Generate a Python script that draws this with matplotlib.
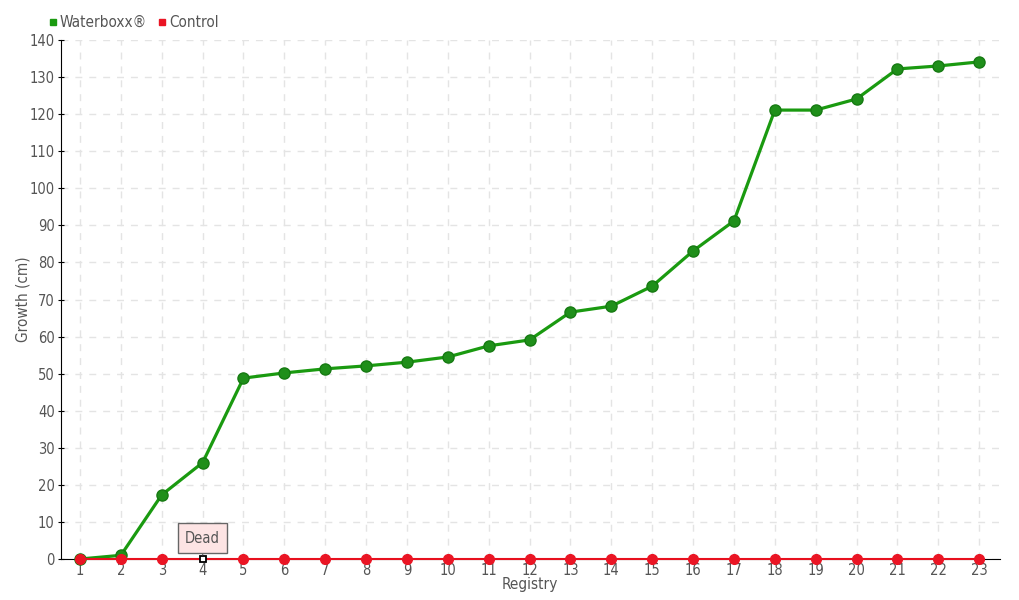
import matplotlib.pyplot as plt
import numpy as np
from matplotlib.lines import Line2D

plt.rcParams['font.family'] = ['DejaVu Sans']
plt.rcParams['font.stretch'] = 'condensed'

registry = list(range(1, 24))
waterboxx = [0, 1, 17.3, 26, 48.8, 50.2, 51.3, 52.1, 53.1, 54.5, 57.5, 59.1,
             66.6, 68.2, 73.6, 83.1, 91.2, 121.1, 121.1, 124.1, 132.2, 133, 134.1]
control = [0] * 23
dead_at = 4
yticks = list(range(0, 141, 10))

fig = plt.figure(figsize=(10.2, 6), dpi=100)
ax = fig.add_axes([0.0598, 0.0683, 0.9202, 0.8650])

ax.grid(True, color='#e4e4e4', linestyle=(0, (5, 5)), linewidth=1)
ax.set_axisbelow(True)

ax.plot(registry, waterboxx, color='#1a9a10', lw=2.3, zorder=3, clip_on=False)
ax.plot(registry, waterboxx, 'o', color='#1f8f1a', mec='#167a12', ms=8, zorder=4, clip_on=False)

ax.plot(registry, control, color='#e8101e', lw=1.5, zorder=5, clip_on=False)
alive = [r for r in registry if r != dead_at]
ax.plot(alive, [control[r - 1] for r in alive], 'o', color='#ea1524', ms=7, zorder=6, clip_on=False)
ax.plot([dead_at], [control[dead_at - 1]], 's', color='white', mec='black', ms=5, mew=1.3,
        zorder=7, clip_on=False)

ax.annotate('Dead', xy=(dead_at, 0), xytext=(dead_at, 5.6), ha='center', va='center',
            fontsize=10.5, color='#555555',
            bbox=dict(boxstyle='square,pad=0.5', fc='#fde4e4', ec='#666666', lw=1),
            arrowprops=dict(arrowstyle='-', color='#666666', lw=0.8, shrinkA=0, shrinkB=3),
            zorder=8)

ax.set_xlim(0.535, 23.5)
ax.set_ylim(0, 140)
ax.set_xticks(registry)
ax.set_yticks(yticks)
ax.tick_params(axis='x', length=0, labelsize=10.5, labelcolor='#555555', pad=3)
ax.tick_params(axis='y', length=5, direction='inout', labelsize=10.5, labelcolor='#555555', pad=2)
for s in ['top', 'right']:
    ax.spines[s].set_visible(False)
ax.spines['left'].set_color('black')
ax.spines['bottom'].set_color('black')

ax.set_xlabel('Registry', fontsize=11, color='#555555', labelpad=-1)
ax.set_ylabel('Growth (cm)', fontsize=11, color='#555555', labelpad=-1)

handles = [Line2D([], [], marker='s', ls='', color='#1a9a10', ms=5),
           Line2D([], [], marker='s', ls='', color='#ea1524', ms=5)]
fig.legend(handles, ['Waterboxx®', 'Control'], loc='upper left', bbox_to_anchor=(0.032, 0.998),
           ncol=2, frameon=False, fontsize=11, labelcolor='#555555',
           handletextpad=0.05, columnspacing=0.6, handlelength=0.8)

fig.savefig('out.png', dpi=100)
